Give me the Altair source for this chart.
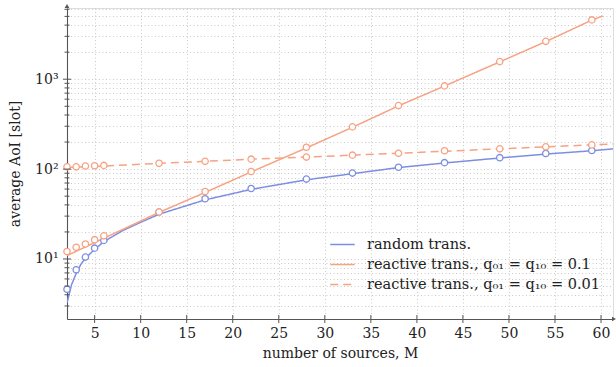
import altair as alt
import pandas as pd

# Simulated points (number of sources M -> average AoI in slots)
M_SIM = [2, 3, 4, 5, 6, 12, 17, 22, 28, 33, 38, 43, 49, 54, 59]
RANDOM_SIM = [4.6, 7.6, 10.5, 13.2, 16.1, 33.3, 46.8, 60.8, 77.4, 90.3, 105, 118, 134, 149, 161]
REACT01_SIM = [12.1, 13.5, 14.7, 16.4, 18.1, 33.3, 56.4, 94, 175, 295, 509, 843, 1570, 2640, 4570]
REACT001_SIM = [106, 106, 108, 109, 110, 116, 122, 129, 136, 143, 150, 160, 168, 177, 186]

# Analytical curves
RANDOM_CURVE_M = [2, 2.5, 3, 3.5, 4, 5, 6, 8, 10, 12, 17, 22, 28, 33, 38, 43, 49, 54, 59, 61.3]
RANDOM_CURVE = [3.25, 5.2, 6.9, 8.7, 10.2, 12.8, 15.6, 20.6, 25.6, 31.5, 45.5, 59.5, 76, 89, 104, 117, 133, 147, 160, 168]
REACT01_CURVE_M = [2, 6, 12, 17, 22, 28, 33, 38, 43, 49, 54, 59, 60.2]
REACT01_CURVE = [10.9, 17, 33, 55, 93, 172, 292, 505, 840, 1560, 2620, 4550, 5050]
REACT001_CURVE_M = [2, 6, 12, 17, 22, 28, 33, 38, 43, 49, 54, 59, 61.3]
REACT001_CURVE = [104, 108, 116, 122, 129, 136, 143, 150, 158, 168, 177, 186, 190]

SERIES = [
    "random trans.",
    "reactive trans., q\u2080\u2081 = q\u2081\u2080 = 0.1",
    "reactive trans., q\u2080\u2081 = q\u2081\u2080 = 0.01",
]
COLORS = ["#7d8ee2", "#f7a283", "#f7a283"]
DASHES = [[1, 0], [1, 0], [8, 5]]

X_TICKS = [5, 10, 15, 20, 25, 30, 35, 40, 45, 50, 55, 60]
Y_MINOR = [3, 4, 5, 6, 7, 8, 9, 20, 30, 40, 50, 60, 70, 80, 90,
           200, 300, 400, 500, 600, 700, 800, 900, 2000, 3000, 4000, 5000, 6000]
Y_MAJOR = [10, 100, 1000]

FONT = "DejaVu Serif"
FS = 14
AXIS_COLOR = "#555555"
GRID_COLOR = "#c4c4c4"
W, H = 546, 311

curves = pd.concat([
    pd.DataFrame({"M": RANDOM_CURVE_M, "aoi": RANDOM_CURVE, "series": SERIES[0]}),
    pd.DataFrame({"M": REACT01_CURVE_M, "aoi": REACT01_CURVE, "series": SERIES[1]}),
    pd.DataFrame({"M": REACT001_CURVE_M, "aoi": REACT001_CURVE, "series": SERIES[2]}),
])
sims = pd.concat([
    pd.DataFrame({"M": M_SIM, "aoi": RANDOM_SIM, "series": SERIES[0]}),
    pd.DataFrame({"M": M_SIM, "aoi": REACT01_SIM, "series": SERIES[1]}),
    pd.DataFrame({"M": M_SIM, "aoi": REACT001_SIM, "series": SERIES[2]}),
])

x_scale = alt.Scale(domain=[2, 61.3], nice=False, zero=False)
y_scale = alt.Scale(type="log", domain=[2.15, 6200], nice=False)

x_enc = alt.X(
    "M:Q", scale=x_scale, title="number of sources, M",
    axis=alt.Axis(
        values=X_TICKS, ticks=False, grid=True, labelPadding=7, titlePadding=6,
        domainColor=AXIS_COLOR, domainWidth=1.1,
        gridDash=[1, 2.5], gridColor=GRID_COLOR, gridWidth=0.9,
        labelFont=FONT, labelFontSize=FS, labelColor="#222",
        titleFont=FONT, titleFontSize=FS, titleFontWeight="normal", titleColor="#222",
        labelFlush=False,
    ),
)
label_expr = ("datum.value == 10 ? '10\u00b9' : datum.value == 100 ? '10\u00b2' : "
              "datum.value == 1000 ? '10\u00b3' : ''")
y_enc = alt.Y(
    "aoi:Q", scale=y_scale, title="average AoI [slot]",
    axis=alt.Axis(
        values=Y_MAJOR + Y_MINOR, ticks=False, grid=True, labelExpr=label_expr,
        labelPadding=9, titlePadding=12,
        domainColor=AXIS_COLOR, domainWidth=1.1,
        gridDash=[1, 2.5], gridColor=GRID_COLOR, gridWidth=0.9,
        labelFont=FONT, labelFontSize=FS, labelColor="#222",
        titleFont=FONT, titleFontSize=FS, titleFontWeight="normal", titleColor="#222",
        labelFlush=False,
    ),
)

legend = alt.Legend(
    title=None, orient="none", legendX=262, legendY=223,
    symbolType="stroke", symbolSize=600, symbolStrokeWidth=1.6,
    labelFont=FONT, labelFontSize=14.5, labelColor="#222", labelOffset=11,
    labelLimit=0, rowPadding=0,
)

lines = alt.Chart(curves).mark_line(strokeWidth=1.5, clip=True).encode(
    x=x_enc, y=y_enc,
    color=alt.Color("series:N", scale=alt.Scale(domain=SERIES, range=COLORS), legend=legend, sort=SERIES),
    strokeDash=alt.StrokeDash("series:N", scale=alt.Scale(domain=SERIES, range=DASHES), legend=legend, sort=SERIES),
    detail="series:N",
)

points = alt.Chart(sims).mark_point(
    shape="circle", size=40, filled=False, fill="white", fillOpacity=1, strokeWidth=1.3, opacity=1
).encode(
    x=x_enc, y=y_enc,
    stroke=alt.Stroke("series:N", scale=alt.Scale(domain=SERIES, range=COLORS), legend=None),
)

# Axis tick marks crossing the axis lines
ytick_minor = alt.Chart(pd.DataFrame({"aoi": Y_MINOR})).mark_rule(color=AXIS_COLOR, strokeWidth=1).encode(
    y=y_enc, x=alt.value(-2.5), x2=alt.value(2.5))
ytick_major = alt.Chart(pd.DataFrame({"aoi": Y_MAJOR})).mark_rule(color=AXIS_COLOR, strokeWidth=1).encode(
    y=y_enc, x=alt.value(-4), x2=alt.value(4))
xtick = alt.Chart(pd.DataFrame({"M": X_TICKS})).mark_rule(color=AXIS_COLOR, strokeWidth=1).encode(
    x=x_enc, y=alt.value(H - 4), y2=alt.value(H + 4))

# Arrow heads at the ends of the axes
one = pd.DataFrame({"k": [0]})
x_arrow = alt.Chart(one).mark_point(shape="triangle-right", size=22, filled=True, color=AXIS_COLOR, opacity=1).encode(
    x=alt.value(W + 1), y=alt.value(H))
y_arrow = alt.Chart(one).mark_point(shape="triangle-up", size=22, filled=True, color=AXIS_COLOR, opacity=1).encode(
    x=alt.value(0), y=alt.value(-2))

chart = alt.layer(lines, points, ytick_minor, ytick_major, xtick, x_arrow, y_arrow).properties(
    width=W, height=H,
    autosize=alt.AutoSizeParams(type="none"),
    padding={"left": 67, "top": 8, "right": 3, "bottom": 48},
).configure_view(stroke=None).configure(background="white")

chart.save("out.html", embed_options={"renderer": "svg", "actions": False})
